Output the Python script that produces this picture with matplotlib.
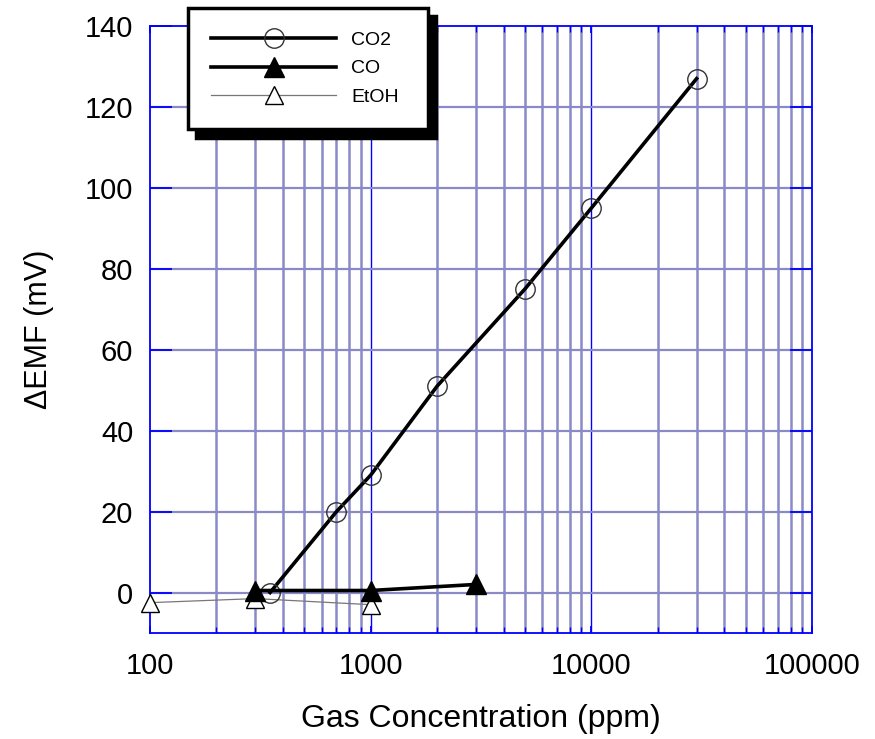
import matplotlib
matplotlib.use("Agg")
import matplotlib.pyplot as plt
from matplotlib.ticker import FixedLocator, NullFormatter, FixedFormatter

plt.rcParams['font.family'] = ['Liberation Sans', 'DejaVu Sans']

co2_x = [350, 700, 1000, 2000, 5000, 10000, 30000]
co2_y = [0, 20, 29, 51, 75, 95, 127]
co_x = [300, 1000, 3000]
co_y = [0.5, 0.5, 2]
etoh_x = [100, 300, 1000]
etoh_y = [-2.5, -1.5, -3]

x_ticks = [100, 1000, 10000, 100000]
x_ticklabels = ['100', '1000', '10000', '100000']
y_ticks = [0, 20, 40, 60, 80, 100, 120, 140]

fig = plt.figure(figsize=(8.75, 7.39), dpi=100)
ax = fig.add_axes([150/875, 1-633/739, 662/875, 607/739])
ax.set_xscale('log')
ax.set_xlim(100, 100000)
ax.set_ylim(-10, 140)

grid_c = '#8a8ac8'
minor_x = [m * 10**d for d in range(2, 5) for m in range(2, 10)]
for xv in minor_x:
    ax.axvline(xv, color=grid_c, lw=1.8, zorder=0)
for xv in [1000, 10000]:
    ax.axvline(xv, color='#0000ff', lw=1.0, zorder=0)
for yv in y_ticks[:-1]:
    ax.axhline(yv, color=grid_c, lw=1.6, zorder=0)

ax.plot(etoh_x, etoh_y, color='#777777', lw=0.9, marker='^', ms=13,
        mfc='white', mec='black', mew=1.0, label='EtOH', zorder=3, clip_on=False)
ax.plot(co2_x, co2_y, color='black', lw=2.6, marker='o', ms=14,
        mfc='none', mec='#333333', mew=1.0, label='CO2', zorder=4, clip_on=False)
ax.plot(co_x, co_y, color='black', lw=2.6, marker='^', ms=14,
        mfc='black', mec='black', label='CO', zorder=5, clip_on=False)

for s in ax.spines.values():
    s.set_color('#0000ff')
    s.set_linewidth(1.3)

ax.xaxis.set_major_locator(FixedLocator(x_ticks))
ax.xaxis.set_major_formatter(FixedFormatter(x_ticklabels))
ax.xaxis.set_minor_locator(FixedLocator(minor_x))
ax.xaxis.set_minor_formatter(NullFormatter())
ax.yaxis.set_major_locator(FixedLocator(y_ticks))
ax.tick_params(which='both', direction='in', color='#0000ff', top=True, right=True,
               labelsize=21)
ax.tick_params(axis='y', which='major', length=16, width=1.3, pad=12)
ax.tick_params(axis='x', which='major', length=5, width=1.3, pad=14)
ax.tick_params(axis='x', which='minor', length=4, width=1.0)

ax.set_xlabel('Gas Concentration (ppm)', fontsize=23, labelpad=17)
ax.set_ylabel('ΔEMF (mV)', fontsize=22, labelpad=22)

handles, labels = ax.get_legend_handles_labels()
order = [1, 2, 0]
leg = fig.legend([handles[i] for i in order], [labels[i] for i in order],
                 loc='upper left', bbox_to_anchor=(188/875, 1-125/739, 240/875, 117/739),
                 mode='expand',
                 fontsize=14, handlelength=6.4, handletextpad=0.8,
                 labelspacing=0.56, borderpad=1.2, borderaxespad=0,
                 fancybox=False, framealpha=1, edgecolor='black',
                 shadow={'ox': 6, 'oy': -6, 'color': 'black', 'alpha': 1, 'shade': 0})
leg.get_frame().set_linewidth(2.5)

fig.savefig('out.png', dpi=100)
